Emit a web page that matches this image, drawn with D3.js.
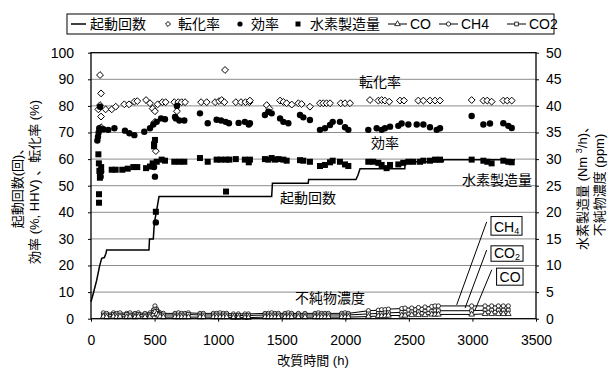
<!DOCTYPE html>
<html>
<head>
<meta charset="utf-8">
<script src="https://cdn.jsdelivr.net/npm/d3@7"></script>
<style>
  body { margin: 0; background: #fff; }
  text { font-family: "Liberation Sans", Arial, "Noto Sans CJK JP", sans-serif; fill: #000; }
</style>
</head>
<body>
<svg id="chart" width="611" height="369"></svg>
<script>
// ---- data ----
// hours, value on left axis
const startCount = [[0,6.4],[18,9.5],[45,14.5],[66,19.5],[84,22.7],[105,23],[118,24.6],[123,25.8],[456,25.8],[460,30],[490,30],[498,35.9],[517,40.9],[535,45.9],[1421,45.9],[1427,50.9],[1708,50.9],[1712,52.3],[2084,52.3],[2100,54],[2116,56.4],[2468,56.4],[2472,59],[2770,59],[2774,59.8],[3335,59.8]];

const conversion = [[58,78.7],[71,91.6],[71,80.3],[79,84.7],[79,76],[79,72],[115,78.7],[163,78.7],[194,79.7],[262,80.6],[299,80.6],[341,81.6],[364,81.8],[433,82.2],[464,81],[485,79],[503,78],[503,74],[510,63],[524,80.6],[561,81.4],[587,81.4],[655,81.4],[676,78],[687,81.4],[713,81.4],[740,81.4],[866,81.4],[910,81.4],[976,81.4],[1007,81.8],[1028,82.2],[1049,81.4],[1054,93.5],[1139,81.4],[1180,81.4],[1215,81.4],[1246,81.4],[1250,82],[1382,80.3],[1403,79],[1487,82],[1513,81.5],[1539,81],[1579,80.5],[1631,81],[1657,80.7],[1722,79.7],[1801,81],[1827,81],[1853,81],[1880,81],[1964,81],[1998,81],[2037,81],[2194,82.2],[2260,82],[2286,82.2],[2312,82],[2346,81.6],[2430,82],[2462,82],[2574,82],[2614,82],[2666,82],[2706,82],[2745,82],[2994,82.2],[3086,82],[3117,82],[3151,81.6],[3243,82],[3274,82],[3309,82]];

const efficiency = [[50,67],[55,68.4],[60,70],[65,71.6],[71,79.7],[71,54.7],[76,53.4],[80,55.3],[97,71.2],[136,71],[184,71.6],[267,70.7],[302,69.7],[341,69],[419,70.3],[464,71.6],[490,73],[496,57],[503,53.4],[510,36.2],[517,74],[551,75.3],[582,75],[661,75.8],[668,75.3],[676,80],[695,74.5],[734,74.5],[857,77.2],[918,73.5],[988,74.8],[1023,74.5],[1059,74],[1085,73.5],[1161,73.6],[1210,74],[1241,73],[1250,73.5],[1368,76.6],[1395,77.8],[1421,77.2],[1487,75.3],[1513,74],[1552,73.5],[1644,76.6],[1670,75.7],[1722,74.7],[1801,71],[1840,71.6],[1880,72.8],[1901,74],[1958,74],[1998,72],[2024,71],[2181,71],[2247,71.6],[2286,71],[2312,71.6],[2352,72.2],[2417,72.5],[2443,73.4],[2496,73],[2562,73],[2614,73],[2666,72],[2719,71],[2745,71.6],[2994,76.2],[3086,73],[3138,73.4],[3243,73.5],[3282,72.5],[3309,71.7]];

// hours, Nm3/h on right axis
const hydrogen = [[58,30.9],[62,29.2],[66,27.8],[70,26.5],[63,23.4],[63,21.8],[80,28.5],[163,28],[194,28],[246,28],[289,28.2],[333,28.5],[364,28.5],[433,28.3],[464,28.6],[485,29.2],[496,32.4],[503,33.6],[496,32.8],[510,20.1],[517,29.5],[556,29.9],[582,29.7],[655,29.5],[695,29.5],[734,29.5],[857,30.2],[918,29.5],[988,29.9],[1023,29.9],[1062,29.9],[1088,29.9],[1062,23.9],[1139,30],[1210,29.9],[1241,29.4],[1250,29.9],[1368,30],[1395,29.9],[1421,30.2],[1447,29.9],[1474,30],[1513,29.9],[1539,29.7],[1644,29.8],[1670,29.7],[1722,29.5],[1801,28.7],[1840,28.9],[1880,29.4],[1901,29.7],[1958,29.5],[1998,29],[2024,28.7],[2181,29.5],[2220,29.5],[2260,29.3],[2286,28.9],[2325,28.3],[2352,28.9],[2417,29],[2456,29.3],[2496,29.5],[2535,29.5],[2588,29.5],[2614,29.7],[2666,29.7],[2706,29.9],[2745,29.9],[2994,29.9],[3086,29.7],[3117,29.5],[3151,29.2],[3243,29.7],[3282,29.5],[3309,29.4]];

// impurity sampling hours and ppm (right axis)
const impHours = [97,123,176,202,228,281,307,346,372,425,464,490,503,516,530,543,569,661,687,713,739,766,857,884,962,988,1015,1041,1067,1120,1159,1211,1238,1369,1395,1421,1447,1474,1526,1552,1578,1631,1683,1762,1788,1814,1840,1867,1971,1998,2024,2182,2260,2286,2313,2339,2444,2470,2523,2575,2627,2680,2706,2732,2994,3099,3151,3204,3243,3282];
const ch4 = [1.1,1.0,1.1,1.0,1.1,1.0,1.1,1.0,1.1,1.0, 1.1,1.6,2.4,1.8,1.3,1.1,1.0,1.0,1.1,1.0, 1.0,1.1,1.0,1.0,1.0,1.0,1.1,1.0,1.0,0.9, 0.9,0.9,0.9,1.0,1.0,1.1,1.0,1.0,1.0,1.1, 1.0,1.0,1.0,1.0,1.1,1.0,1.0,1.0,1.0,1.1, 1.0,1.5,1.6,1.7,1.7,1.8,1.9,2.0,2.0,2.1, 2.2,2.3,2.4,2.4,2.4,2.4,2.4,2.4,2.4,2.4];
const co2 = [0.7,0.7,0.8,0.7,0.7,0.8,0.7,0.7,0.8,0.7, 0.8,1.2,1.8,1.4,1.0,0.8,0.7,0.7,0.7,0.7, 0.7,0.8,0.7,0.7,0.7,0.7,0.7,0.7,0.7,0.6, 0.6,0.6,0.6,0.7,0.7,0.7,0.7,0.7,0.7,0.7, 0.7,0.7,0.7,0.7,0.7,0.7,0.7,0.7,0.7,0.7, 0.7,0.9,1.0,1.0,1.1,1.1,1.2,1.2,1.3,1.3, 1.4,1.4,1.5,1.5,1.5,1.6,1.6,1.6,1.6,1.6];
const co = [0.4,0.3,0.4,0.3,0.4,0.3,0.4,0.3,0.4,0.3, 0.4,0.8,1.3,0.9,0.6,0.4,0.3,0.3,0.3,0.3, 0.3,0.3,0.3,0.3,0.3,0.3,0.3,0.3,0.3,0.2, 0.2,0.2,0.2,0.3,0.3,0.3,0.3,0.3,0.3,0.3, 0.3,0.3,0.3,0.3,0.3,0.3,0.3,0.3,0.3,0.3, 0.3,0.4,0.5,0.5,0.5,0.6,0.6,0.6,0.7,0.7, 0.7,0.8,0.8,0.8,0.8,0.9,0.9,0.9,0.9,0.9];

const xTicks = [0,500,1000,1500,2000,2500,3000,3500];
const leftTicks = [0,10,20,30,40,50,60,70,80,90,100];
const rightTicks = [0,5,10,15,20,25,30,35,40,45,50];

// ---- layout ----
const svg = d3.select('#chart');
const x = d3.scaleLinear().domain([0, 3500]).range([91, 536]);
const yL = d3.scaleLinear().domain([0, 100]).range([318.7, 52.7]);
const yR = d3.scaleLinear().domain([0, 50]).range([318.7, 52.7]);
const fmt = d3.format('d');

// grid
svg.append('g').selectAll('line').data(leftTicks.slice(1, -1)).enter().append('line')
  .attr('x1', x(0)).attr('x2', x(3500))
  .attr('y1', d => yL(d)).attr('y2', d => yL(d))
  .attr('stroke', '#8c8c8c').attr('stroke-width', 1);

// axes
const axisFont = g => g.selectAll('text').style('font-size', '14px');
svg.append('g').attr('transform', `translate(${x(0)},0)`)
  .call(d3.axisLeft(yL).tickValues(leftTicks).tickFormat(fmt).tickSize(3).tickSizeOuter(0).tickPadding(14))
  .call(g => g.select('.domain').remove()).call(axisFont);
svg.append('g').attr('transform', `translate(${x(3500)},0)`)
  .call(d3.axisRight(yR).tickValues(rightTicks).tickFormat(fmt).tickSize(3).tickSizeOuter(0).tickPadding(7))
  .call(g => g.select('.domain').remove()).call(axisFont);
svg.append('g').attr('transform', `translate(0,${yL(0)})`)
  .call(d3.axisBottom(x).tickValues(xTicks).tickFormat(fmt).tickSize(3).tickSizeOuter(0).tickPadding(13))
  .call(g => g.select('.domain').remove()).call(axisFont);

// impurity lines
const impSeries = [
  {name: 'CH4', vals: ch4, shape: 'circle'},
  {name: 'CO2', vals: co2, shape: 'square'},
  {name: 'CO', vals: co, shape: 'triangle'}
];
const impLine = d3.line().x(d => x(d[0])).y(d => yR(d[1]));
const shapeOf = {circle: d3.symbolCircle, square: d3.symbolSquare, triangle: d3.symbolTriangle};
impSeries.forEach(s => {
  const pts = impHours.map((h, i) => [h, s.vals[i]]);
  svg.append('path').datum(pts).attr('d', impLine)
    .attr('fill', 'none').attr('stroke', '#000').attr('stroke-width', 1);
  svg.append('g').selectAll('path').data(pts).enter().append('path')
    .attr('d', d3.symbol().type(shapeOf[s.shape]).size(14))
    .attr('transform', d => `translate(${x(d[0])},${yR(d[1])})`)
    .attr('fill', '#fff').attr('stroke', '#000').attr('stroke-width', 0.8);
});

// startup count step line
svg.append('path').datum(startCount)
  .attr('d', d3.line().x(d => x(d[0])).y(d => yL(d[1])))
  .attr('fill', 'none').attr('stroke', '#000').attr('stroke-width', 1.5);

// conversion diamonds
svg.append('g').selectAll('path').data(conversion).enter().append('path')
  .attr('d', d3.symbol().type(d3.symbolDiamond2).size(30))
  .attr('transform', d => `translate(${x(d[0])},${yL(d[1])})`)
  .attr('fill', '#fff').attr('stroke', '#000').attr('stroke-width', 1);

// efficiency circles
svg.append('g').selectAll('circle').data(efficiency).enter().append('circle')
  .attr('cx', d => x(d[0])).attr('cy', d => yL(d[1])).attr('r', 3.2)
  .attr('fill', '#000');

// hydrogen squares
svg.append('g').selectAll('rect').data(hydrogen).enter().append('rect')
  .attr('x', d => x(d[0]) - 3).attr('y', d => yR(d[1]) - 3)
  .attr('width', 6).attr('height', 6).attr('fill', '#000');

// frame
svg.append('rect').attr('x', x(0)).attr('y', yL(100))
  .attr('width', x(3500) - x(0)).attr('height', yL(0) - yL(100))
  .attr('fill', 'none').attr('stroke', '#000').attr('stroke-width', 1.3);

// annotations
const note = (txt, h, v, anchor) => svg.append('text')
  .attr('x', x(h)).attr('y', yL(v)).attr('text-anchor', anchor)
  .style('font-size', '14px').text(txt);
note('転化率', 2273, 87, 'middle');
note('効率', 2312, 64.2, 'middle');
note('水素製造量', 3469, 50.3, 'end');
note('起動回数', 1487, 43.5, 'start');
note('不純物濃度', 1880, 5.9, 'middle');

// impurity callouts (h, ppm)
const callouts = [
  {main: 'CH', sub: '4', box: [3146, 19.2, 3390, 15.7], from: [3112, 18.2], to: [2876, 2.6]},
  {main: 'CO', sub: '2', box: [3146, 13.7, 3398, 10.8], from: [3112, 12.9], to: [2942, 2.0]},
  {main: 'CO', sub: '', box: [3190, 9.5, 3398, 6.3], from: [3152, 9.2], to: [3020, 1.6]}
];
callouts.forEach(c => {
  svg.append('line').attr('x1', x(c.from[0])).attr('y1', yR(c.from[1]))
    .attr('x2', x(c.to[0])).attr('y2', yR(c.to[1])).attr('stroke', '#000').attr('stroke-width', 1);
  const bx = x(c.box[0]), by = yR(c.box[1]), bw = x(c.box[2]) - bx, bh = yR(c.box[3]) - by;
  svg.append('rect').attr('x', bx).attr('y', by).attr('width', bw).attr('height', bh)
    .attr('fill', '#fff').attr('stroke', '#000').attr('stroke-width', 1);
  const t = svg.append('text').attr('x', bx + 3).attr('y', by + bh - 3.5).style('font-size', '14px');
  t.append('tspan').text(c.main);
  if (c.sub) t.append('tspan').attr('dy', 2).style('font-size', '9px').text(c.sub);
});

// axis titles
svg.append('text').attr('transform', 'translate(22,185) rotate(-90)').attr('text-anchor', 'middle')
  .style('font-size', '13px').text('起動回数(回)、');
svg.append('text').attr('transform', 'translate(39,182) rotate(-90)').attr('text-anchor', 'middle')
  .style('font-size', '13px').text('効率 (%, HHV) 、転化率 (%)');
const rt = svg.append('text').attr('transform', 'translate(587,185) rotate(-90)').attr('text-anchor', 'middle')
  .style('font-size', '13px');
rt.append('tspan').text('水素製造量 (Nm ');
rt.append('tspan').attr('dy', -5).style('font-size', '9px').text('3');
rt.append('tspan').attr('dy', 5).text('/h)、');
svg.append('text').attr('transform', 'translate(604,185) rotate(-90)').attr('text-anchor', 'middle')
  .style('font-size', '13px').text('不純物濃度 (ppm)');
svg.append('text').attr('x', 313).attr('y', 365).attr('text-anchor', 'middle')
  .style('font-size', '13px').text('改質時間 (h)');

// legend
const lg = svg.append('g');
lg.append('rect').attr('x', 67).attr('y', 14).attr('width', 487).attr('height', 20)
  .attr('fill', '#fff').attr('stroke', '#000').attr('stroke-width', 1);
const ly = 24;
const lgText = (txt, lx) => lg.append('text').attr('x', lx).attr('y', ly + 5).style('font-size', '14px').text(txt);
lg.append('line').attr('x1', 71).attr('x2', 86).attr('y1', ly).attr('y2', ly).attr('stroke', '#000').attr('stroke-width', 1.5);
lgText('起動回数', 90);
lg.append('path').attr('d', d3.symbol().type(d3.symbolDiamond2).size(16)).attr('transform', `translate(168,${ly})`)
  .attr('fill', '#fff').attr('stroke', '#000');
lgText('転化率', 178);
lg.append('circle').attr('cx', 240).attr('cy', ly).attr('r', 2.6).attr('fill', '#000');
lgText('効率', 251);
lg.append('rect').attr('x', 295.5).attr('y', ly - 2.5).attr('width', 5).attr('height', 5).attr('fill', '#000');
lgText('水素製造量', 310);
[['triangle', 'CO', 388], ['circle', 'CH4', 439], ['square', 'CO2', 507]].forEach(([sh, name, lx]) => {
  lg.append('line').attr('x1', lx).attr('x2', lx + 19).attr('y1', ly).attr('y2', ly).attr('stroke', '#000');
  lg.append('path').attr('d', d3.symbol().type(shapeOf[sh]).size(14)).attr('transform', `translate(${lx + 9.5},${ly})`)
    .attr('fill', '#fff').attr('stroke', '#000').attr('stroke-width', 0.8);
  lgText(name, lx + 22);
});
</script>
</body>
</html>
